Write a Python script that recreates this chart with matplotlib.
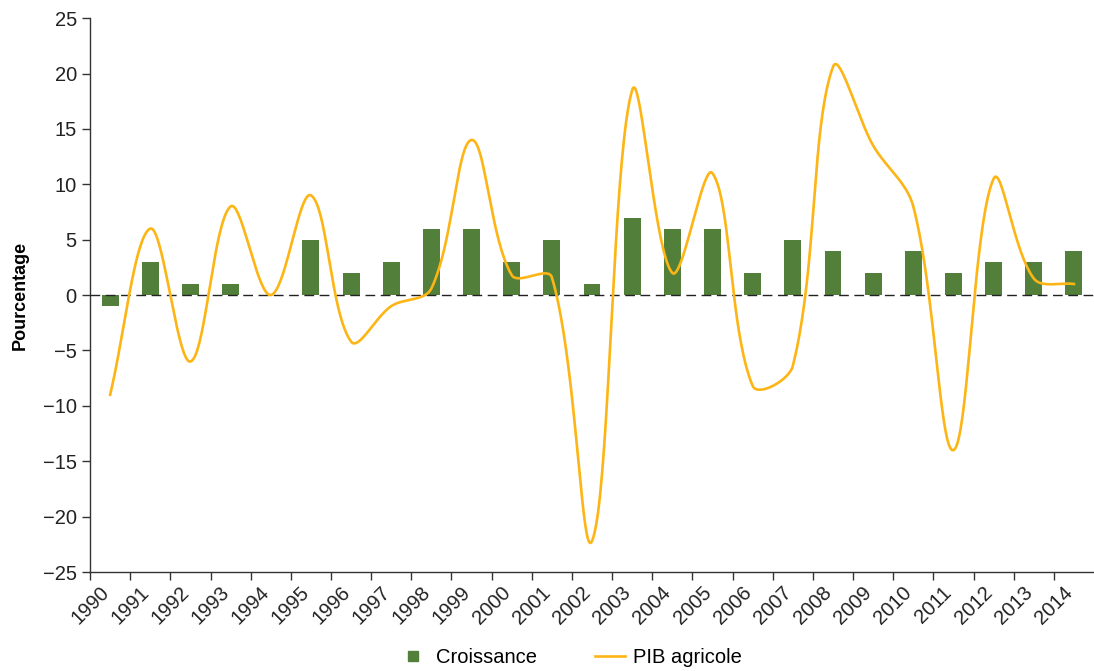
import numpy as np
import matplotlib.pyplot as plt
from matplotlib.lines import Line2D

years = [str(y) for y in range(1990, 2015)]
croissance = [-1, 3, 1, 1, 0, 5, 2, 3, 6, 6, 3, 5, 1, 7, 6, 6, 2, 5, 4, 2, 4, 2, 3, 3, 4]
pib_agricole = [-9, 6, -6, 8, 0, 9, -4.2, -1, 0.6, 14, 1.8, 1.6, -22.2, 18.5, 2, 11,
                -8.2, -6.4, 20.6, 13.5, 8, -14, 10.5, 1.5, 1]

GREEN = '#52803a'
ORANGE = '#fdb515'

# pixels per data unit on screen (used to weight the smoothing like a spreadsheet)
PX_X = 40.2
PX_Y = 11.08


def smooth_line(x, y, steps=40, tension=0.35):
    """Bezier smoothing with chord-length weighted handles (spreadsheet-like)."""
    p = np.column_stack([np.asarray(x, float) * PX_X, np.asarray(y, float) * PX_Y])
    n = len(p)
    c_in = p.copy()
    c_out = p.copy()
    for i in range(n):
        a = p[max(i - 1, 0)]
        b = p[min(i + 1, n - 1)]
        d = b - a
        l1 = np.linalg.norm(p[i] - a)
        l2 = np.linalg.norm(b - p[i])
        tot = l1 + l2
        if tot == 0:
            continue
        c_in[i] = p[i] - d * tension * l1 / tot
        c_out[i] = p[i] + d * tension * l2 / tot
    t = np.linspace(0, 1, steps)[:, None]
    pts = []
    for i in range(n - 1):
        b0, b1, b2, b3 = p[i], c_out[i], c_in[i + 1], p[i + 1]
        seg = ((1 - t) ** 3) * b0 + 3 * ((1 - t) ** 2) * t * b1 + 3 * (1 - t) * t**2 * b2 + t**3 * b3
        pts.append(seg)
    pts = np.vstack(pts)
    return pts[:, 0] / PX_X, pts[:, 1] / PX_Y


plt.rcParams['font.family'] = ['Liberation Sans', 'DejaVu Sans']

fig = plt.figure(figsize=(10.94, 6.71), dpi=100)
ax = fig.add_axes([0.0823, 0.1475, 0.9177, 0.8255])

pos = np.arange(len(years)) + 0.5
ax.bar(pos, croissance, width=0.42, color=GREEN, zorder=2)
ax.axhline(0, color='#222222', lw=1, ls=(0, (7, 4)), zorder=3)
sx, sy = smooth_line(pos, pib_agricole)
ax.plot(sx, sy, color=ORANGE, lw=1.9, zorder=4)

ax.set_xlim(0, len(years))
ax.set_ylim(-25, 25)
ax.set_yticks(range(-25, 26, 5))
ax.set_yticklabels([str(v).replace('-', '\u2212') for v in range(-25, 26, 5)],
                   fontsize=14.5, color='#222222')
ax.set_xticks(np.arange(len(years)))
ax.set_xticklabels(years, rotation=45, ha='center', fontsize=14.5, color='#222222')
ax.tick_params(axis='both', length=6, width=1, color='#333333')
ax.tick_params(axis='x', pad=2)

for side in ['top', 'right']:
    ax.spines[side].set_visible(False)
for side in ['left', 'bottom']:
    ax.spines[side].set_color('#333333')
    ax.spines[side].set_linewidth(1)

ax.set_ylabel('Pourcentage', fontsize=13, fontweight='bold', labelpad=10)

handles = [Line2D([], [], marker='s', ls='', color=GREEN, markersize=7.5),
           Line2D([], [], color=ORANGE, lw=1.9)]
fig.legend(handles, ['Croissance', 'PIB agricole'], loc='center',
           bbox_to_anchor=(0.521, 0.02), ncol=2, frameon=False, fontsize=14.5,
           handlelength=1.5, columnspacing=2.85, handletextpad=0.4)

fig.savefig('out.png', dpi=100)
